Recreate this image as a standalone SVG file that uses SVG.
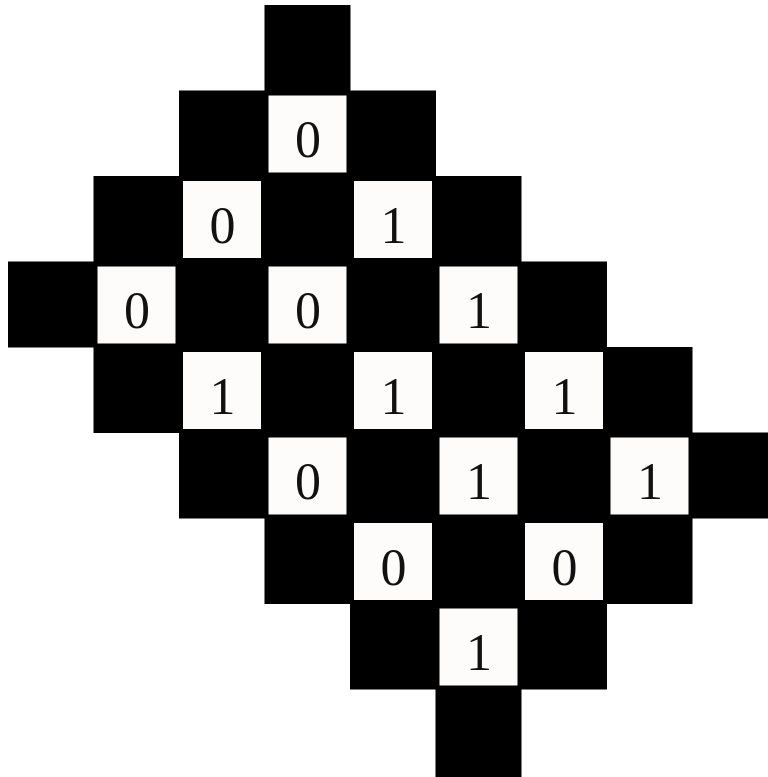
<svg xmlns="http://www.w3.org/2000/svg" width="768" height="777" viewBox="0 0 768 777">
<style>
.b{fill:#000}
.w{fill:#fdfcfb}
.t{font-family:'Liberation Serif','Times New Roman',serif;font-size:52px;fill:#111;text-anchor:middle}
</style>
<rect width="768" height="777" fill="#fff"/>
<g id="black-cells">
<rect class="b" x="264.5" y="5" width="86" height="86"/>
<rect class="b" x="179" y="90.5" width="257" height="86"/>
<rect class="b" x="93.5" y="176" width="428" height="86"/>
<rect class="b" x="8" y="261.5" width="599" height="86"/>
<rect class="b" x="93.5" y="347" width="599" height="86"/>
<rect class="b" x="179" y="432.5" width="598" height="86"/>
<rect class="b" x="264.5" y="518" width="428" height="86"/>
<rect class="b" x="350" y="603.5" width="257" height="86"/>
<rect class="b" x="435.5" y="689" width="86" height="88"/>
</g>
<g id="c-1-3"><rect class="w" x="268.5" y="95.5" width="78" height="77"/><text class="t" x="308" y="157">0</text></g>
<g id="c-2-2"><rect class="w" x="183" y="181" width="78" height="77"/><text class="t" x="222.5" y="242.5">0</text></g>
<g id="c-2-4"><rect class="w" x="354" y="181" width="78" height="77"/><text class="t" x="393.5" y="242.5">1</text></g>
<g id="c-3-1"><rect class="w" x="97.5" y="266.5" width="78" height="77"/><text class="t" x="137" y="328">0</text></g>
<g id="c-3-3"><rect class="w" x="268.5" y="266.5" width="78" height="77"/><text class="t" x="308" y="328">0</text></g>
<g id="c-3-5"><rect class="w" x="439.5" y="266.5" width="78" height="77"/><text class="t" x="479" y="328">1</text></g>
<g id="c-4-2"><rect class="w" x="183" y="352" width="78" height="77"/><text class="t" x="222.5" y="413.5">1</text></g>
<g id="c-4-4"><rect class="w" x="354" y="352" width="78" height="77"/><text class="t" x="393.5" y="413.5">1</text></g>
<g id="c-4-6"><rect class="w" x="525" y="352" width="78" height="77"/><text class="t" x="564.5" y="413.5">1</text></g>
<g id="c-5-3"><rect class="w" x="268.5" y="437.5" width="78" height="77"/><text class="t" x="308" y="499">0</text></g>
<g id="c-5-5"><rect class="w" x="439.5" y="437.5" width="78" height="77"/><text class="t" x="479" y="499">1</text></g>
<g id="c-5-7"><rect class="w" x="610.5" y="437.5" width="78" height="77"/><text class="t" x="650" y="499">1</text></g>
<g id="c-6-4"><rect class="w" x="354" y="523" width="78" height="77"/><text class="t" x="393.5" y="584.5">0</text></g>
<g id="c-6-6"><rect class="w" x="525" y="523" width="78" height="77"/><text class="t" x="564.5" y="584.5">0</text></g>
<g id="c-7-5"><rect class="w" x="439.5" y="608.5" width="78" height="77"/><text class="t" x="479" y="670">1</text></g>
<g id="connectors"/>
</svg>
